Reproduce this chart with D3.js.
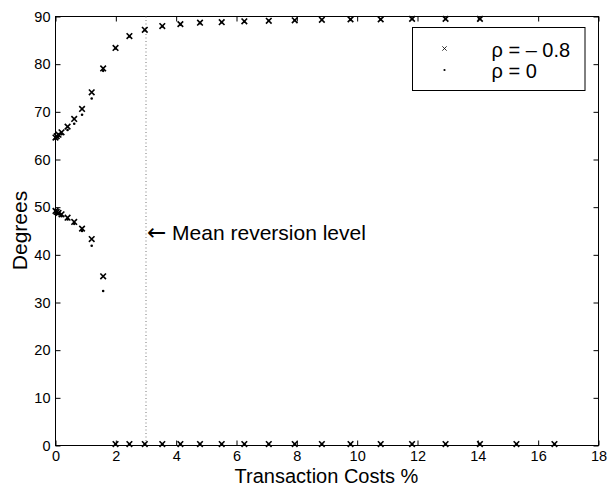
<!DOCTYPE html>
<html>
  <head>
    <meta charset="UTF-8" />
    <title></title>
    <style>
      body { margin: 0; background: #fff; }
      text { font-family: 'Liberation Sans', Arial, Helvetica, sans-serif; fill: #000; }
    </style>
    <script src="https://d3js.org/d3.v7.min.js"></script>
  </head>
  <body>
    <div id="viz"></div>
    <script>
      // transaction costs (%) at which the angles were computed
      const xCost = [0, 0.04, 0.1, 0.2, 0.4, 0.62, 0.88, 1.2, 1.58, 1.99, 2.45, 2.96, 3.54,
        4.14, 4.79, 5.51, 6.26, 7.07, 7.93, 8.83, 9.78, 10.78, 11.82, 12.93, 14.07, 15.28, 16.54];

      // rho = -0.8 (crosses), two branches
      const rhoNegUpper = [64.6, 64.9, 65.2, 65.7, 66.9, 68.5, 70.6, 74.1, 79.1, 83.4, 85.9, 87.2,
        88.0, 88.4, 88.7, 88.8, 89.0, 89.1, 89.2, 89.3, 89.4, 89.4, 89.5, 89.5, 89.5, null, null];
      const rhoNegLower = [49.2, 49.0, 48.8, 48.5, 47.8, 46.9, 45.5, 43.3, 35.5, 0.3, 0.3, 0.3,
        0.3, 0.3, 0.3, 0.3, 0.3, 0.3, 0.3, 0.3, 0.3, 0.3, 0.3, 0.3, 0.3, 0.3, 0.3];

      // rho = 0 (dots)
      const rhoZeroUpper = [64.3, 64.6, 64.9, 65.3, 66.2, 67.5, 69.4, 72.8, 78.6, 83.3, 85.8, 87.1,
        87.9, 88.3, 88.6, 88.8, 88.9, 89.1, 89.2, 89.3, 89.3, 89.4, 89.5, 89.5, 89.5, null, null];
      const rhoZeroLower = [49.0, 48.7, 48.5, 48.1, 47.4, 46.5, 45.0, 41.9, 32.4, 0.2, 0.2, 0.2,
        0.2, 0.2, 0.2, 0.2, 0.2, 0.2, 0.2, 0.2, 0.2, 0.2, 0.2, 0.2, 0.2, 0.2, 0.2];

      const xTicks = [0, 2, 4, 6, 8, 10, 12, 14, 16, 18];
      const yTicks = [0, 10, 20, 30, 40, 50, 60, 70, 80, 90];
      const meanReversion = 3;
      const legendLabels = ['\u03c1 = \u2013 0.8', '\u03c1 = 0'];

      const width = 610, height = 490;
      const margin = { left: 55, right: 12, top: 16, bottom: 45 };
      const innerW = width - margin.left - margin.right;
      const innerH = height - margin.top - margin.bottom;

      const svg = d3.select('#viz').append('svg')
        .attr('width', width).attr('height', height);
      const g = svg.append('g')
        .attr('transform', `translate(${margin.left + 0.5},${margin.top + 0.5})`);

      const x = d3.scaleLinear().domain([0, 18]).range([0, innerW]);
      const y = d3.scaleLinear().domain([0, 90]).range([innerH, 0]);

      const styleAxis = (sel, showText) => {
        sel.select('.domain').remove();
        sel.selectAll('line').attr('stroke', '#000');
        sel.selectAll('text').style('font-size', '14.5px')
          .style('font-family', "'Liberation Sans', Arial, sans-serif");
        if (!showText) sel.selectAll('text').remove();
      };

      g.append('g').attr('transform', `translate(0,${innerH})`)
        .call(d3.axisBottom(x).tickValues(xTicks).tickSizeInner(-5).tickSizeOuter(0).tickPadding(5))
        .call((s) => styleAxis(s, true));
      g.append('g')
        .call(d3.axisTop(x).tickValues(xTicks).tickSizeInner(-5).tickSizeOuter(0))
        .call((s) => styleAxis(s, false));
      g.append('g')
        .call(d3.axisLeft(y).tickValues(yTicks).tickSizeInner(-5).tickSizeOuter(0).tickPadding(5))
        .call((s) => styleAxis(s, true));
      g.append('g').attr('transform', `translate(${innerW},0)`)
        .call(d3.axisRight(y).tickValues(yTicks).tickSizeInner(-5).tickSizeOuter(0))
        .call((s) => styleAxis(s, false));

      g.append('rect')
        .attr('x', 0).attr('y', 0).attr('width', innerW).attr('height', innerH)
        .attr('fill', 'none').attr('stroke', '#000').attr('stroke-width', 1);

      // mean reversion level
      g.append('line')
        .attr('x1', x(meanReversion)).attr('x2', x(meanReversion))
        .attr('y1', 0).attr('y2', innerH)
        .attr('stroke', '#777').attr('stroke-width', 1)
        .attr('stroke-dasharray', '1,2.5');
      const ann = g.append('text')
        .attr('x', x(meanReversion) + 1).attr('y', y(44.5) + 7)
        .style('font-size', '21px');
      ann.append('tspan').style('font-family', "'DejaVu Sans', sans-serif")
        .style('font-size', '23px').text('\u2190');
      ann.append('tspan').text(' Mean reversion level');

      const cross = (s) => `M${-s},${-s}L${s},${s}M${-s},${s}L${s},${-s}`;

      const pts = (ys) => xCost.map((c, i) => [c, ys[i]]).filter((d) => d[1] != null);

      const dots = [...pts(rhoZeroUpper), ...pts(rhoZeroLower)];
      g.selectAll('.dot').data(dots).join('circle')
        .attr('class', 'dot')
        .attr('cx', (d) => x(d[0])).attr('cy', (d) => y(d[1]))
        .attr('r', 1.3).attr('fill', '#000');

      const crosses = [...pts(rhoNegUpper), ...pts(rhoNegLower)];
      g.selectAll('.cross').data(crosses).join('path')
        .attr('class', 'cross')
        .attr('transform', (d) => `translate(${x(d[0])},${y(d[1])})`)
        .attr('d', cross(2.8))
        .attr('stroke', '#000').attr('stroke-width', 1.6).attr('fill', 'none');

      // legend
      const lg = svg.append('g').attr('transform', 'translate(412.5,27.5)');
      lg.append('rect').attr('width', 172.5).attr('height', 63)
        .attr('fill', '#fff').attr('stroke', '#000').attr('stroke-width', 1);
      lg.append('path').attr('transform', 'translate(32,21)')
        .attr('d', cross(2.2)).attr('stroke', '#000').attr('stroke-width', 0.8);
      lg.append('circle').attr('cx', 32).attr('cy', 42.5).attr('r', 1.1).attr('fill', '#000');
      lg.selectAll('.lt').data(legendLabels).join('text')
        .attr('class', 'lt')
        .attr('x', 79).attr('y', (d, i) => 29 + i * 21.5)
        .style('font-size', '20px')
        .text((d) => d);

      // axis labels
      svg.append('text')
        .attr('x', margin.left + innerW / 2).attr('y', 483)
        .attr('text-anchor', 'middle').style('font-size', '20px')
        .text('Transaction Costs %');
      svg.append('text')
        .attr('transform', `translate(27,${margin.top + innerH / 2}) rotate(-90)`)
        .attr('text-anchor', 'middle').style('font-size', '21px')
        .text('Degrees');
    </script>
  </body>
</html>
